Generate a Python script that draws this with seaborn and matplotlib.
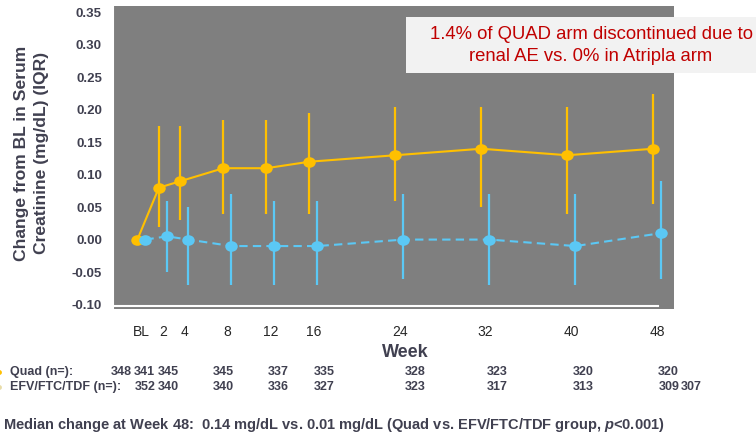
import numpy as np
import pandas as pd
import matplotlib
matplotlib.use("Agg")
import matplotlib.pyplot as plt
from matplotlib.path import Path
from matplotlib.transforms import Affine2D, blended_transform_factory
from matplotlib.patches import Rectangle
from matplotlib.lines import Line2D
import seaborn as sns

# ---- data -------------------------------------------------------------
weeks = [0, 2, 4, 8, 12, 16, 24, 32, 40, 48]
week_labels = ["BL", "2", "4", "8", "12", "16", "24", "32", "40", "48"]

quad_median = [0.00, 0.08, 0.09, 0.11, 0.11, 0.12, 0.13, 0.14, 0.13, 0.14]
quad_q1 = [np.nan, 0.02, 0.03, 0.04, 0.04, 0.04, 0.06, 0.05, 0.04, 0.055]
quad_q3 = [np.nan, 0.175, 0.175, 0.185, 0.185, 0.195, 0.205, 0.205, 0.205, 0.225]

efv_median = [0.00, 0.005, 0.00, -0.01, -0.01, -0.01, 0.00, 0.00, -0.01, 0.01]
efv_q1 = [np.nan, -0.05, -0.07, -0.07, -0.07, -0.07, -0.06, -0.07, -0.07, -0.06]
efv_q3 = [np.nan, 0.06, 0.05, 0.07, 0.06, 0.06, 0.07, 0.07, 0.07, 0.09]

quad_n = [348, 341, 345, 345, 337, 335, 328, 323, 320, 320]
efv_n = [352, 340, 340, 336, 327, 323, 317, 313, 309, 307]
# week-axis positions at which each count is printed
quad_n_at = [-1.9, 0.2, 2.5, 7.6, 12.7, 17.0, 25.4, 33.1, 41.1, 49.0]
efv_n_at = [0.3, 2.5, 7.6, 12.7, 17.0, 25.4, 33.1, 41.1, 49.1, 51.1]

# ---- style ------------------------------------------------------------
sns.set_style("white")
plt.rcParams["font.family"] = ["Liberation Sans", "DejaVu Sans"]
plt.rcParams["mathtext.fontset"] = "custom"
plt.rcParams["mathtext.it"] = "Liberation Sans:italic:bold"
plt.rcParams["mathtext.rm"] = "Liberation Sans:bold"

TEXT = "#404050"
YELLOW = "#FFC000"
BLUE = "#5BC8F5"
PANEL = "#7F7F7F"

W, H = 756, 436
fig = plt.figure(figsize=(W / 100, H / 100), dpi=100)
ax = fig.add_axes([113 / W, 1 - 309 / H, (674 - 113) / W, (309 - 6) / H])
ax.set_facecolor(PANEL)

# slightly wide oval marker
oval = Path.unit_circle().transformed(Affine2D().scale(1.0, 0.85))

dodge = {"Quad": -0.4, "EFV": 0.35}
df = pd.concat([
    pd.DataFrame({"week": weeks, "x": np.array(weeks) + dodge["Quad"],
                  "median": quad_median, "q1": quad_q1, "q3": quad_q3, "arm": "Quad"}),
    pd.DataFrame({"week": weeks, "x": np.array(weeks) + dodge["EFV"],
                  "median": efv_median, "q1": efv_q1, "q3": efv_q3, "arm": "EFV"}),
], ignore_index=True)

palette = {"Quad": YELLOW, "EFV": BLUE}

# IQR whiskers
for arm in ["Quad", "EFV"]:
    d = df[(df["arm"] == arm) & df["q1"].notna()]
    ax.vlines(d["x"], d["q1"], d["q3"], color=palette[arm], lw=1.6, zorder=1.5)

sns.lineplot(data=df, x="x", y="median", hue="arm", style="arm",
             hue_order=["Quad", "EFV"], palette=palette,
             markers={"Quad": oval, "EFV": oval},
             dashes={"Quad": "", "EFV": (4, 2.5)},
             markersize=9, markeredgewidth=0, linewidth=1.5,
             estimator=None, sort=False, legend=False, ax=ax, zorder=2)

ax.set_xlim(-2.67, 49.52)
ax.set_ylim(-0.107, 0.360)
ax.set_xlabel("")
ax.set_ylabel("")

yt = np.round(np.arange(-0.10, 0.351, 0.05), 2)
ax.set_yticks(yt)
ax.set_yticklabels([f"{v:.2f}" for v in yt], fontweight="bold", fontsize=9.5, color=TEXT)
ax.set_xticks(weeks)
ax.set_xticklabels(week_labels, fontweight="bold", fontsize=9, color=TEXT)

for s in ["top", "right"]:
    ax.spines[s].set_visible(False)
ax.spines["left"].set_color("white")
ax.spines["left"].set_linewidth(1.5)
ax.spines["bottom"].set_color("white")
ax.spines["bottom"].set_linewidth(1.5)
ax.spines["bottom"].set_position(("data", -0.1025))
ax.spines["bottom"].set_bounds(-3.3, 48)

ax.tick_params(axis="x", direction="out", length=3.5, width=1, color="white", pad=10)
ax.tick_params(axis="y", direction="out", length=4, width=1, color="#d9d9d9", pad=4)
ax.grid(False)

# y-axis title
fig.text(31.5 / W, 1 - 153 / H, "Change from BL in Serum\nCreatinine (mg/dL) (IQR)",
         rotation=90, ha="center", va="center", multialignment="center",
         fontsize=12.6, fontweight="bold", color=TEXT, linespacing=1.45)

# x-axis title
fig.text(405.7 / W, 1 - 352 / H, "Week", ha="center", va="center",
         fontsize=13, fontweight="bold", color=TEXT)

# call-out box
fig.add_artist(Rectangle((406 / W, 1 - 73 / H), 350 / W, 56 / H,
                         transform=fig.transFigure, facecolor="#F2F2F2",
                         edgecolor="none", zorder=3))
fig.text(591 / W, 1 - 45.5 / H,
         "1.4% of QUAD arm discontinued due to\nrenal AE vs. 0% in Atripla arm",
         ha="center", va="center", fontsize=13.3, color="#C00000",
         linespacing=1.45, zorder=4)

# number-at-risk rows
tr = blended_transform_factory(ax.transData, fig.transFigure)
row_y = {"Quad": 1 - 372 / H, "EFV": 1 - 387 / H}
fig.text(10 / W, row_y["Quad"], "Quad (n=):", ha="left", va="center",
         fontsize=9, fontweight="bold", color=TEXT)
fig.text(10 / W, row_y["EFV"], "EFV/FTC/TDF (n=):", ha="left", va="center",
         fontsize=9, fontweight="bold", color=TEXT)
for n, xw in zip(quad_n, quad_n_at):
    ax.text(xw, row_y["Quad"], str(n), transform=tr, ha="center", va="center",
            fontsize=9, fontweight="bold", color=TEXT, clip_on=False)
for n, xw in zip(efv_n, efv_n_at):
    ax.text(xw, row_y["EFV"], str(n), transform=tr, ha="center", va="center",
            fontsize=9, fontweight="bold", color=TEXT, clip_on=False)

# clipped legend swatches at the left edge
for yy, c in [(row_y["Quad"], YELLOW), (row_y["EFV"], "#E8DCA8")]:
    fig.add_artist(Line2D([-1.5 / W], [yy], marker="o", markersize=3.5,
                          color=c, markeredgewidth=0, transform=fig.transFigure))

# footnote
fig.text(3 / W, 1 - 425 / H,
         "Median change at Week 48:  0.14 mg/dL vs. 0.01 mg/dL "
         "(Quad vs. EFV/FTC/TDF group, $p$<0.001)",
         ha="left", va="center", fontsize=10.5, fontweight="bold", color=TEXT)

fig.savefig("out.png", dpi=100, facecolor="white")
